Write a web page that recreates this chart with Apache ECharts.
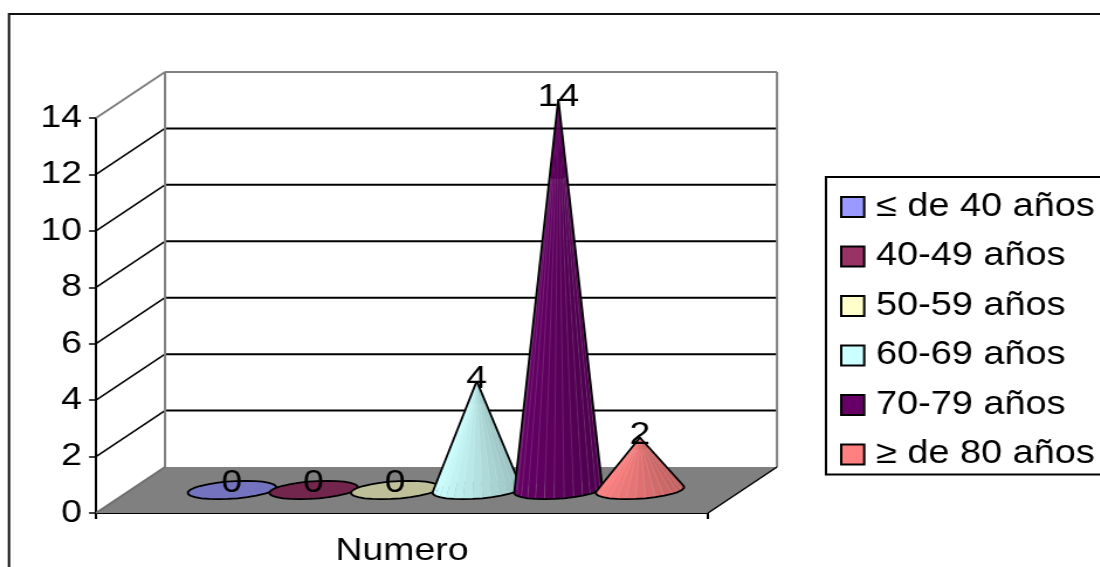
<!DOCTYPE html>
<html><head><meta charset="utf-8">
<style>html,body{margin:0;padding:0;background:#fff;overflow:hidden}
#c{width:940px;height:567px;transform:scaleX(1.17);transform-origin:0 0}</style>
<script src="https://cdn.jsdelivr.net/npm/echarts@6/dist/echarts.min.js"></script>
</head><body><div id="c"></div>
<script>
const categories = ['Numero'];
const seriesNames = ['≤ de 40 años','40-49 años','50-59 años','60-69 años','70-79 años','≥ de 80 años'];
const seriesValues = [0,0,0,4,14,2];
const seriesColors = ['#9999FF','#993366','#FFFFCC','#CCFFFF','#660066','#FF8080'];
const yTicks = [0,2,4,6,8,10,12,14];

const S = 1.17;
const FONT = '"Liberation Sans", Arial, sans-serif';
const DX = 69/S, DY = -46;          // 3D depth vector of the plot box
const shade = (hex,f)=>{const n=parseInt(hex.slice(1),16);
  return 'rgb('+[n>>16&255,n>>8&255,n&255].map(c=>Math.round(c*f)).join(',')+')';};

function renderBox(params, api){
  const o = api.coord([0,0]);
  const band = api.size([1,0])[0];
  const x0 = o[0]-band/2, y0 = api.coord([0,0])[1];
  const x1 = x0+band;
  const yTop = api.coord([0,yTicks[yTicks.length-1]])[1];
  const line=(a,b,c,d,color,w)=>({type:'line',shape:{x1:a,y1:b,x2:c,y2:d},style:{stroke:color,lineWidth:w}});
  const ch=[];
  ch.push({type:'polygon',shape:{points:[[x0,y0],[x0+DX,y0+DY],[x1+DX,y0+DY],[x1,y0]]},style:{fill:'#808080'}});
  yTicks.slice(1,-1).forEach(v=>{
    const y=api.coord([0,v])[1];
    ch.push(line(x0,y,x0+DX,y+DY,'#000',1.5));
    ch.push(line(x0+DX,y+DY,x1+DX,y+DY,'#000',2));
  });
  ch.push(line(x0,yTop,x0+DX,yTop+DY,'#808080',2));
  ch.push(line(x0+DX,yTop+DY,x1+DX,yTop+DY,'#808080',2));
  ch.push(line(x0+DX,yTop+DY,x0+DX,y0+DY,'#808080',2));
  ch.push(line(x1+DX,yTop+DY,x1+DX,y0+DY,'#808080',2));
  ch.push(line(x0,y0,x0+DX,y0+DY,'#707070',2));
  ch.push(line(x1,y0,x1+DX,y0+DY,'#000',1.5));
  return {type:'group',children:ch};
}

function renderCone(i){
  return function(params, api){
    const v = api.value(1);
    const o = api.coord([0,0]);
    const band = api.size([1,0])[0];
    const step = band/7.5;
    const yBase = api.coord([0,0])[1];
    const cx = o[0]-band/2 + step*(1.25+i) + DX/2 - 0.5;
    const cy = yBase + DY/2;
    const r = step*0.515, kx = DX*0.2, ky = DY*0.2;
    const apex = [cx, api.coord([0,v])[1]-19];
    const N = 28, pts=[];
    for(let n=0;n<N;n++){const t=2*Math.PI*n/N;
      pts.push([cx+r*Math.cos(t)+kx*Math.sin(t), cy+ky*Math.sin(t)]);}
    const ch=[];
    const base = seriesColors[i];
    if(v===0){
      ch.push({type:'polygon',shape:{points:pts},
        style:{fill:shade(base,0.75),stroke:'#000',lineWidth:1.8,lineJoin:'round'}});
    } else {
      const minX=Math.min(...pts.map(p=>p[0])), w=Math.max(...pts.map(p=>p[0]))-minX;
      const order=pts.map((p,n)=>n).sort((a,b)=>pts[a][1]-pts[b][1]);
      order.forEach(n=>{
        const a=pts[n], b=pts[(n+1)%N];
        const f=1-0.24*((a[0]+b[0])/2-minX)/w;
        ch.push({type:'polygon',shape:{points:[apex,a,b]},style:{fill:shade(base,f),stroke:null}});
      });
      // faint facet seams, fading out toward the tip
      pts.forEach((p,n)=>{
        if(p[1]<cy) return;
        const q=0.8;
        ch.push({type:'line',shape:{x1:p[0],y1:p[1],x2:p[0]+(apex[0]-p[0])*q,y2:p[1]+(apex[1]-p[1])*q},
          style:{stroke:'rgba(255,255,255,0.22)',lineWidth:0.6}});
      });
      let L=0,R=0,la=Infinity,ra=-Infinity;
      pts.forEach((p,n)=>{const s=Math.atan2(p[0]-apex[0],p[1]-apex[1]);
        if(s<la){la=s;L=n;} if(s>ra){ra=s;R=n;}});
      const out=[apex];
      for(let n=L;;n=(n+1)%N){out.push(pts[n]); if(n===R)break;}
      out.push(apex);
      ch.push({type:'polyline',shape:{points:out},style:{fill:null,stroke:'#000',lineWidth:1.8,lineJoin:'round'}});
    }
    const ly = v===0 ? cy-7 : apex[1]-2;
    ch.push({type:'text',x:cx,y:ly,style:{text:String(v),fill:'#000',font:'32px '+FONT,align:'center',verticalAlign:'middle'}});
    return {type:'group',children:ch};
  };
}

const chart = echarts.init(document.getElementById('c'),null,{renderer:'canvas',width:940,height:567});
chart.setOption({
  animation:false,
  backgroundColor:'#fff',
  textStyle:{fontFamily:FONT,color:'#000'},
  graphic:[{type:'polyline',silent:true,z:-1,
    shape:{points:[[9/S,600],[9/S,14],[1100/S+5,14]]},style:{fill:null,stroke:'#111',lineWidth:2}}],
  grid:{left:96/S,top:118,width:612/S,height:395},
  legend:{
    orient:'vertical',left:826/S,top:177,
    padding:[14,40,4,12],
    itemWidth:23/S,itemHeight:20,itemGap:17.5,
    borderColor:'#000',borderWidth:2,
    icon:'rect',
    textStyle:{fontSize:32.4,fontFamily:FONT,color:'#000',padding:[0,0,0,5]},
    data:seriesNames
  },
  xAxis:{type:'category',data:categories,
    axisLine:{lineStyle:{color:'#000',width:2}},
    axisTick:{show:true,length:6,alignWithLabel:false,lineStyle:{color:'#000',width:2}},
    axisLabel:{fontSize:32,color:'#000',margin:22,fontFamily:FONT},
    splitLine:{show:false}},
  yAxis:{type:'value',min:0,max:14,interval:2,
    axisLine:{show:true,lineStyle:{color:'#000',width:2}},
    axisTick:{show:true,length:6,lineStyle:{color:'#000',width:1.5}},
    axisLabel:{fontSize:32,color:'#000',margin:12,fontFamily:FONT},
    splitLine:{show:false}},
  series:[
    {type:'custom',name:'_box',coordinateSystem:'cartesian2d',silent:true,z:1,clip:false,
     renderItem:renderBox,data:[[0,0]],encode:{x:0,y:1},tooltip:{show:false}},
    ...seriesNames.map((name,i)=>({
      type:'custom',name,coordinateSystem:'cartesian2d',z:3+i,clip:false,
      itemStyle:{color:seriesColors[i],borderColor:'#000',borderWidth:1.5},
      renderItem:renderCone(i),data:[[0,seriesValues[i]]],encode:{x:0,y:1}
    }))
  ]
});
</script></body></html>
